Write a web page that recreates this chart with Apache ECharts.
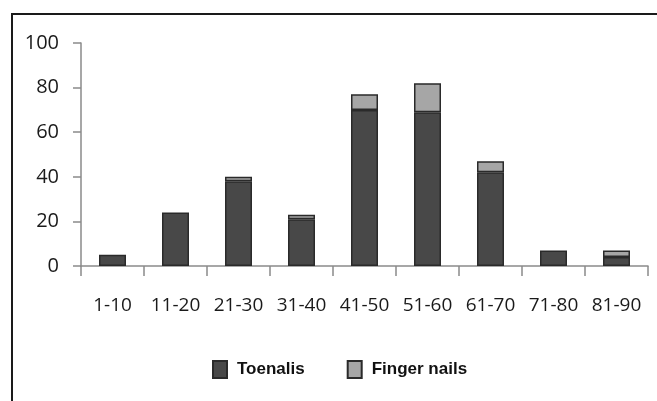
<!DOCTYPE html>
<html>
<head>
<meta charset="utf-8">
<script src="https://cdn.jsdelivr.net/npm/echarts@6/dist/echarts.min.js"></script>
<style>html,body{margin:0;padding:0;background:#fff;}#c{width:657px;height:401px;}</style>
</head>
<body>
<div id="c"></div>
<script>
var categories = ['1-10','11-20','21-30','31-40','41-50','51-60','61-70','71-80','81-90'];
var toenails = [5, 24, 38, 21, 70, 69, 42, 7, 4];
var fingerNails = [0, 0, 2, 2, 7, 13, 5, 0, 3];
var yTicks = [0, 20, 40, 60, 80, 100];

var chart = echarts.init(document.getElementById('c'), null, {renderer: 'canvas'});
var legendFont = '"Liberation Sans", Arial, sans-serif';
var axisFont = '"Open Sans", "Noto Sans", sans-serif';
function nz(v) { return v === 0 ? null : v; }
chart.setOption({
  animation: false,
  backgroundColor: '#ffffff',
  graphic: [
    {type: 'line', shape: {x1: 11, y1: 14, x2: 657, y2: 14}, style: {stroke: '#1a1a1a', lineWidth: 2}},
    {type: 'line', shape: {x1: 12, y1: 13, x2: 12, y2: 401}, style: {stroke: '#1a1a1a', lineWidth: 2}}
  ],
  grid: {left: 81, right: 9, top: 43, bottom: 135, containLabel: false},
  legend: {
    left: 207, top: 355,
    itemWidth: 14, itemHeight: 17, itemGap: 42,
    icon: 'rect',
    textStyle: {fontFamily: legendFont, fontWeight: 'bold', fontSize: 17, color: '#111', padding: [0, 0, 0, 5]},
    data: ['Toenalis', 'Finger nails']
  },
  xAxis: {
    type: 'category',
    data: categories,
    axisLine: {lineStyle: {color: '#8a8a8a', width: 1.5}},
    axisTick: {show: true, length: 10, lineStyle: {color: '#8a8a8a', width: 1.5}},
    axisLabel: {fontFamily: axisFont, fontSize: 19, color: '#1a1a1a', margin: 30, interval: 0}
  },
  yAxis: {
    type: 'value',
    min: yTicks[0], max: yTicks[yTicks.length - 1], interval: 20,
    axisLine: {show: true, lineStyle: {color: '#8a8a8a', width: 1.5}},
    axisTick: {show: true, inside: false, length: 8, lineStyle: {color: '#8a8a8a', width: 1.5}},
    splitLine: {show: false},
    axisLabel: {fontFamily: axisFont, fontSize: 20, color: '#1a1a1a', margin: 22}
  },
  series: [
    {
      name: 'Toenalis', type: 'bar', stack: 'total', barWidth: 27,
      data: toenails.map(nz),
      itemStyle: {color: '#484848', borderColor: '#2a2a2a', borderWidth: 1.5}
    },
    {
      name: 'Finger nails', type: 'bar', stack: 'total', barWidth: 27,
      data: fingerNails.map(nz),
      itemStyle: {color: '#a6a6a6', borderColor: '#2a2a2a', borderWidth: 1.5}
    }
  ]
});
</script>
</body>
</html>
